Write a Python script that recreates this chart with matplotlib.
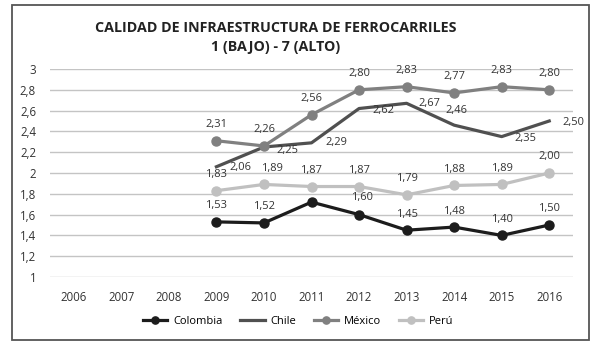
import numpy as np
import matplotlib
matplotlib.use('Agg')
import matplotlib.pyplot as plt
from matplotlib.patches import Rectangle

plt.rcParams['font.family'] = ['Open Sans', 'DejaVu Sans']

# Datos
years = ['2006', '2007', '2008', '2009', '2010', '2011', '2012', '2013', '2014', '2015', '2016']
nan = np.nan
colombia = [nan, nan, nan, 1.53, 1.52, 1.72, 1.60, 1.45, 1.48, 1.40, 1.50]
chile = [nan, nan, nan, 2.06, 2.25, 2.29, 2.62, 2.67, 2.46, 2.35, 2.50]
mexico = [nan, nan, nan, 2.31, 2.26, 2.56, 2.80, 2.83, 2.77, 2.83, 2.80]
peru = [nan, nan, nan, 1.83, 1.89, 1.87, 1.87, 1.79, 1.88, 1.89, 2.00]
yticks = [1, 1.2, 1.4, 1.6, 1.8, 2, 2.2, 2.4, 2.6, 2.8, 3]

# Desplazamiento de etiquetas (pixeles)
up = (0, 16)
chile_offsets = [None] * 3 + [(24, -1), (23, -3), (25, 0), (24, -2), (23, 0), (2, 15), (24, -2), (24, -2)]
peru_offsets = [None] * 3 + [up, (8, 16), up, up, up, up, up, up]
colombia_offsets = [None] * 3 + [up, up, None, (3, 17), up, up, up, up]

fig = plt.figure(figsize=(6, 3.5), dpi=100)
ax = fig.add_axes([50 / 600, 1 - 277 / 350, 523 / 600, 208 / 350])
x = np.arange(len(years))

series = [
    ('Colombia', colombia, '#1c1c1c', 'o', colombia_offsets),
    ('Chile', chile, '#505050', None, chile_offsets),
    ('México', mexico, '#808080', 'o', [None] * 3 + [up] * 8),
    ('Perú', peru, '#c0c0c0', 'o', peru_offsets),
]

for name, vals, color, mk, offs in series:
    ax.plot(x, vals, color=color, lw=2.3, marker=mk, markersize=6.5, label=name, clip_on=False, zorder=3)
    for i, v in enumerate(vals):
        if np.isnan(v) or offs[i] is None:
            continue
        ax.annotate(f'{v:.2f}'.replace('.', ','), (x[i], v), xytext=offs[i],
                    textcoords='offset pixels', ha='center', va='center',
                    fontsize=8, color='#333333', zorder=4)

ax.set_xlim(-0.5, len(years) - 0.5)
ax.set_ylim(1, 3)
ax.set_xticks(x)
ax.set_xticklabels(years)
ax.set_yticks(yticks)
ax.set_yticklabels([f'{t:g}'.replace('.', ',') for t in yticks])
ax.tick_params(length=0, labelsize=8.3, colors='#333333')
ax.tick_params(axis='x', pad=10)
ax.tick_params(axis='y', pad=10)
ax.grid(axis='y', color='#c4c4c4', lw=1)
ax.set_axisbelow(True)
for s in ax.spines.values():
    s.set_visible(False)

fig.text(276 / 600, 1 - 28 / 350, 'CALIDAD DE INFRAESTRUCTURA DE FERROCARRILES',
         ha='center', va='center', fontsize=10.3, fontweight='bold', color='#222222')
fig.text(276 / 600, 1 - 47 / 350, '1 (BAJO) - 7 (ALTO)',
         ha='center', va='center', fontsize=10.3, fontweight='bold', color='#222222')

fig.legend(loc='center', bbox_to_anchor=(298 / 600, 1 - 321 / 350), ncol=4, frameon=False,
           fontsize=8, handlelength=2.2, columnspacing=1.6, handletextpad=0.5, markerscale=0.8)

fig.add_artist(Rectangle((12 / 600, 1 - 340 / 350), 577 / 600, 335 / 350,
                         transform=fig.transFigure, fill=False, ec='#555555', lw=1.3))

fig.savefig('out.png', dpi=100)
